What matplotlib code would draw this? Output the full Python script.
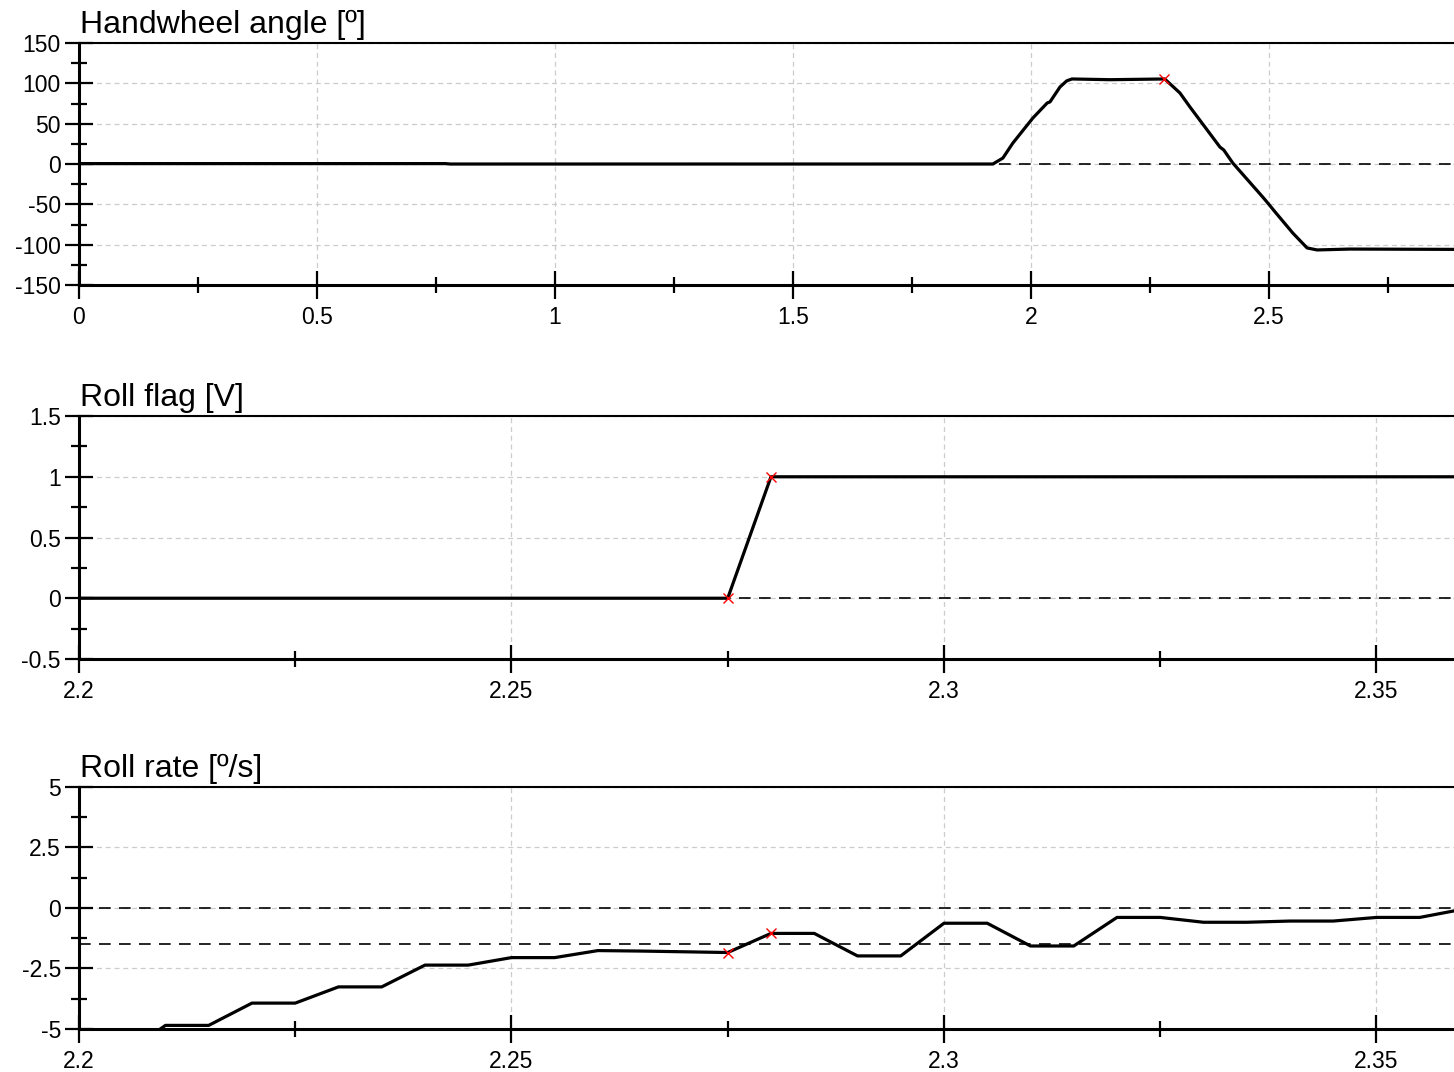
import matplotlib
matplotlib.use('Agg')
import matplotlib.pyplot as plt
from matplotlib.ticker import MultipleLocator, FormatStrFormatter

plt.rcParams['font.family'] = ['Liberation Sans', 'DejaVu Sans']
plt.rcParams['axes.unicode_minus'] = False

# ─── Data ─────────────────────────────────────────────────────────────────────
# Handwheel angle [deg] vs time [s]
hw_t = [0.0, 0.77, 0.78, 1.92, 1.941, 1.962, 2.004, 2.034, 2.040, 2.061, 2.075,
        2.086, 2.166, 2.281, 2.313, 2.334, 2.397, 2.405, 2.424, 2.487, 2.497,
        2.513, 2.550, 2.580, 2.601, 2.670, 2.889]
hw_y = [0.5, 0.5, 0.0, 0.0, 7.4, 26.0, 57.0, 75.6, 77.0, 95.5, 103.0,
        105.4, 104.5, 105.4, 88.0, 70.7, 21.0, 17.4, 1.2, -41.0, -48.0,
        -59.5, -85.5, -104.0, -106.5, -105.4, -105.8]
hw_mark_t = [2.28]
hw_mark_y = [105.4]

# Roll flag [V]
rf_t = [2.200, 2.210, 2.220, 2.230, 2.240, 2.250, 2.260, 2.270, 2.275,
        2.280, 2.290, 2.300, 2.310, 2.320, 2.330, 2.340, 2.350, 2.360]
rf_y = [0, 0, 0, 0, 0, 0, 0, 0, 0,
        1, 1, 1, 1, 1, 1, 1, 1, 1]
rf_mark_t = [2.275, 2.280]
rf_mark_y = [0, 1]

# Roll rate [deg/s]
rr_t = [2.200, 2.205, 2.210, 2.215, 2.220, 2.225, 2.230, 2.235, 2.240, 2.245,
        2.250, 2.255, 2.260, 2.265, 2.270, 2.275, 2.280, 2.285, 2.290, 2.295,
        2.300, 2.305, 2.310, 2.315, 2.320, 2.325, 2.330, 2.335, 2.340, 2.345,
        2.350, 2.355, 2.360]
rr_y = [-6.1, -6.1, -4.85, -4.85, -3.93, -3.93, -3.26, -3.26, -2.36, -2.36,
        -2.05, -2.05, -1.76, -1.78, -1.81, -1.84, -1.05, -1.05, -1.98, -1.98,
        -0.63, -0.63, -1.57, -1.57, -0.39, -0.39, -0.59, -0.59, -0.54, -0.54,
        -0.39, -0.39, -0.05]
rr_mark_t = [2.275, 2.280]
rr_mark_y = [-1.84, -1.05]
rr_ref = [0.0, -1.5]

# ─── Figure ───────────────────────────────────────────────────────────────────
fig = plt.figure(figsize=(14.54, 10.72), dpi=100)
ax1 = fig.add_axes([0.0543, 0.7341, 0.9457, 0.2258])
ax2 = fig.add_axes([0.0543, 0.3853, 0.9457, 0.2266])
ax3 = fig.add_axes([0.0543, 0.0401, 0.9457, 0.2258])


def style(ax, title, xmaj, xmin, ymaj, ymin):
    ax.set_title(title, loc='left', fontsize=23, pad=7, x=0.001)
    ax.xaxis.set_major_locator(MultipleLocator(xmaj))
    ax.xaxis.set_minor_locator(MultipleLocator(xmin))
    ax.yaxis.set_major_locator(MultipleLocator(ymaj))
    ax.yaxis.set_minor_locator(MultipleLocator(ymin))
    ax.xaxis.set_major_formatter(FormatStrFormatter('%g'))
    ax.yaxis.set_major_formatter(FormatStrFormatter('%g'))
    ax.tick_params(which='major', direction='inout', length=20, width=1.6,
                   labelsize=16.5, pad=3)
    ax.tick_params(which='minor', direction='inout', length=11, width=1.6)
    ax.tick_params(axis='x', which='major', pad=5)
    ax.tick_params(top=False, right=False, which='both')
    ax.grid(True, which='major', color='#cccccc', linestyle=(0, (4, 3)),
            linewidth=0.9)
    ax.set_axisbelow(True)
    ax.spines['right'].set_visible(False)
    ax.spines['top'].set_linewidth(1.5)
    ax.spines['bottom'].set_linewidth(2.2)
    ax.spines['left'].set_linewidth(2.2)


ref_kw = dict(color='black', linestyle=(0, (7, 5)), linewidth=1.2, zorder=2)
line_kw = dict(color='black', linewidth=2.3, zorder=3)
mark_kw = dict(color='red', marker='x', linestyle='none', markersize=7,
               markeredgewidth=1.0, zorder=4)

# 1. Handwheel angle
ax1.axhline(0, **ref_kw)
ax1.plot(hw_t, hw_y, **line_kw)
ax1.plot(hw_mark_t, hw_mark_y, **mark_kw)
ax1.set_xlim(0, 2.8887)
ax1.set_ylim(-150, 150)
style(ax1, 'Handwheel angle [º]', 0.5, 0.25, 50, 25)

# 2. Roll flag
ax2.axhline(0, **ref_kw)
ax2.plot(rf_t, rf_y, **line_kw)
ax2.plot(rf_mark_t, rf_mark_y, **mark_kw)
ax2.set_xlim(2.2, 2.35896)
ax2.set_ylim(-0.5, 1.5)
style(ax2, 'Roll flag [V]', 0.05, 0.025, 0.5, 0.25)

# 3. Roll rate
for r in rr_ref:
    ax3.axhline(r, **ref_kw)
ax3.plot(rr_t, rr_y, **line_kw)
ax3.plot(rr_mark_t, rr_mark_y, **mark_kw)
ax3.set_xlim(2.2, 2.35896)
ax3.set_ylim(-5, 5)
style(ax3, 'Roll rate [º/s]', 0.05, 0.025, 2.5, 1.25)

fig.savefig('out.png', dpi=100)
